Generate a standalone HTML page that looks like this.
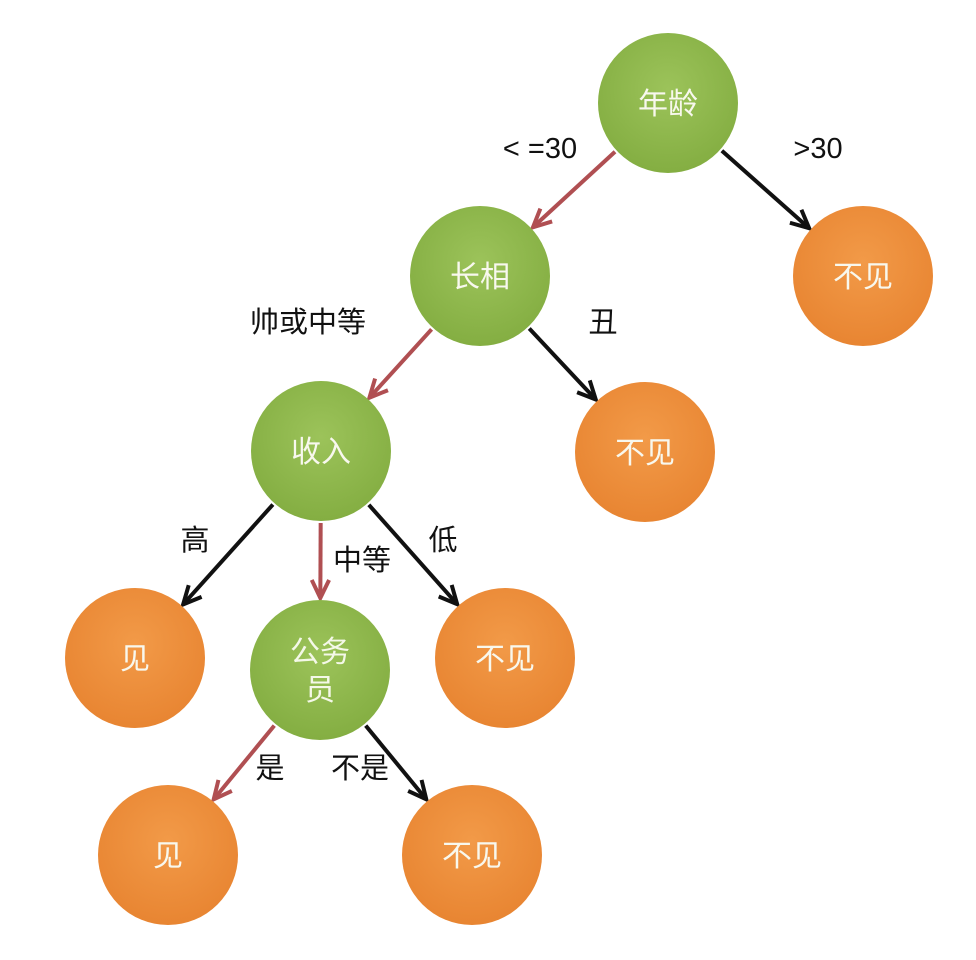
<!DOCTYPE html>
<html><head><meta charset="utf-8"><style>
body{margin:0;background:#fff}
svg{display:block}
text{font-family:"Liberation Sans","Noto Sans CJK SC",sans-serif}
</style></head><body>
<svg width="976" height="960" viewBox="0 0 976 960">
<defs>
<radialGradient id="g" cx="50%" cy="40%" r="60%"><stop offset="0" stop-color="#9cc35a"/><stop offset="1" stop-color="#84ae42"/></radialGradient>
<radialGradient id="o" cx="50%" cy="40%" r="60%"><stop offset="0" stop-color="#f29a48"/><stop offset="1" stop-color="#e88532"/></radialGradient>
</defs>
<g id="edges"></g>
<g id="nodes"></g>
<g id="labels"></g>
</svg>
<script>
const nodeNames=['年龄','不见','长相','收入','不见','见','公务员','不见','见','不见'];
const nodeKinds=['g','o','g','g','o','o','g','o','o','o'];
const nodeCx=[668,863,480,321,645,135,320,505,168,472];
const nodeCy=[103,276,276,451,452,658,670,658,855,855];
const edgeFrom=[0,0,2,2,3,3,3,6,6];
const edgeTo=[2,1,3,4,5,6,7,8,9];
const edgeRed=[1,0,1,0,0,1,0,1,0];
const edgeLabels=['< =30','>30','帅或中等','丑','高','中等','低','是','不是'];
const labelX=[540,818,308,603,195,362,443,270,360];
const labelY=[158,158,332,332,550,570,550,778,778];
const R=70;
const ns='http://www.w3.org/2000/svg';
const E=document.getElementById('edges'),N=document.getElementById('nodes'),L=document.getElementById('labels');
function mk(t,a){const e=document.createElementNS(ns,t);for(const k in a)e.setAttribute(k,a[k]);return e;}
edgeFrom.forEach((f,i)=>{
  const t=edgeTo[i];
  const x1=nodeCx[f],y1=nodeCy[f],x2=nodeCx[t],y2=nodeCy[t];
  const dx=x2-x1,dy=y2-y1,d=Math.hypot(dx,dy),ux=dx/d,uy=dy/d;
  const sx=x1+ux*(R+2),sy=y1+uy*(R+2),ex=x2-ux*(R+2),ey=y2-uy*(R+2);
  const col=edgeRed[i]?'#b04f52':'#111';
  const g=mk('g',{});
  
  
  g.appendChild(mk('line',{x1:sx,y1:sy,x2:ex,y2:ey,stroke:col,'stroke-width':4}));
  const a=Math.PI/7,len=20,ang=Math.atan2(-uy,-ux);
  const p1=[ex+len*Math.cos(ang+a),ey+len*Math.sin(ang+a)],p2=[ex+len*Math.cos(ang-a),ey+len*Math.sin(ang-a)];
  g.appendChild(mk('polyline',{points:`${p1} ${ex},${ey} ${p2}`,fill:'none',stroke:col,'stroke-width':4,'stroke-linejoin':'miter'}));
  E.appendChild(g);
  const tx=mk('text',{x:labelX[i],y:labelY[i],'font-size':29,'text-anchor':'middle',fill:'#111'});
  tx.textContent=edgeLabels[i];
  
  
  L.appendChild(tx);
});
nodeNames.forEach((n,i)=>{
  const g=mk('g',{});
  
  
  g.appendChild(mk('circle',{cx:nodeCx[i],cy:nodeCy[i],r:R,fill:'url(#'+nodeKinds[i]+')'}));
  if(n==='公务员'){
    const t1=mk('text',{x:nodeCx[i],y:nodeCy[i]-8,'font-size':30,'text-anchor':'middle',fill:'#f4f8e8'});t1.textContent='公务';
    const t2=mk('text',{x:nodeCx[i],y:nodeCy[i]+30,'font-size':30,'text-anchor':'middle',fill:'#f4f8e8'});t2.textContent='员';
    g.appendChild(t1);g.appendChild(t2);
  } else {
    const t=mk('text',{x:nodeCx[i],y:nodeCy[i]+11,'font-size':30,'text-anchor':'middle',fill:'#f8f8ee'});t.textContent=n;
    g.appendChild(t);
  }
  N.appendChild(g);
});
</script>
</body></html>
